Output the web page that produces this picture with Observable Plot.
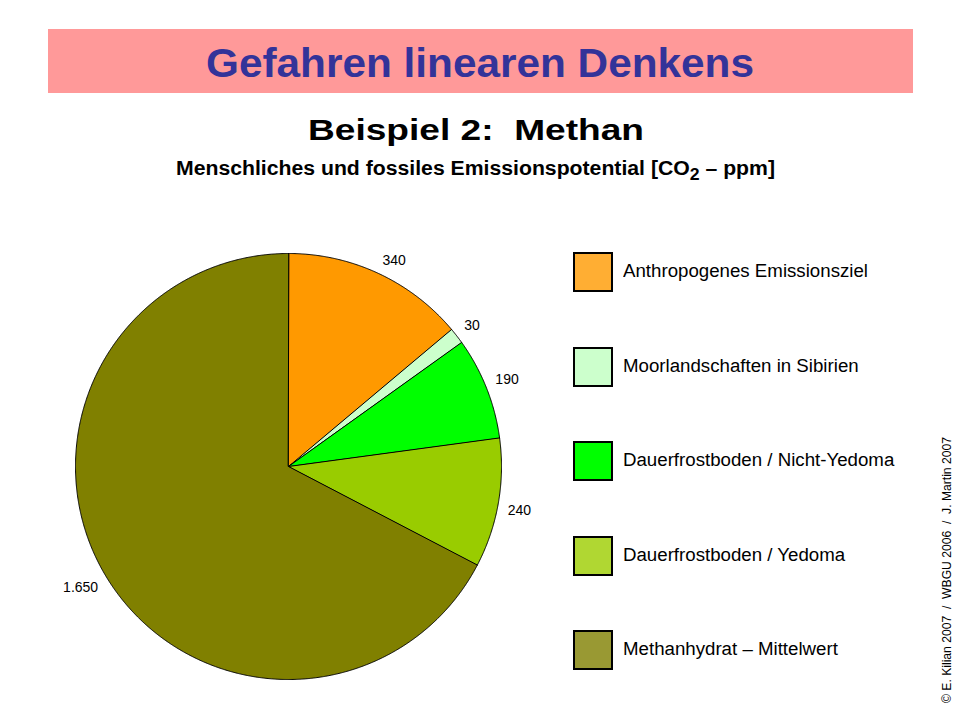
<!DOCTYPE html>
<html><head><meta charset="utf-8">
<script src="https://cdn.jsdelivr.net/npm/d3@7"></script>
<script src="https://cdn.jsdelivr.net/npm/@observablehq/plot@0.6"></script>
<style>
body{margin:0;background:#fff;font-family:"Liberation Sans",Arial,sans-serif;}
#page{position:relative;width:960px;height:720px;overflow:hidden;background:#fff;}
#chart{position:absolute;left:0;top:0;}
.t{position:absolute;white-space:pre;line-height:1;transform-origin:0 0;display:inline-block;}
.sw{position:absolute;box-sizing:border-box;border:2px solid #000;}
</style></head><body><div id="page"><div id="chart"></div></div>
<script>
// ---- data ----
const title = "Gefahren linearen Denkens";
const subtitle = "Beispiel 2:  Methan";
const chartSubtitle = "Menschliches und fossiles Emissionspotential [CO<sub>2</sub> \u2013 ppm]";
const credit = "\u00A9 E. Kilian 2007  /  WBGU 2006  /  J. Martin 2007";
const categories = ["Anthropogenes Emissionsziel", "Moorlandschaften in Sibirien", "Dauerfrostboden / Nicht-Yedoma", "Dauerfrostboden / Yedoma", "Methanhydrat \u2013 Mittelwert"];
const values = [340, 30, 190, 240, 1650];
const valueLabels = ["340", "30", "190", "240", "1.650"];
const sliceColors = ["#FF9900", "#CCFFCC", "#00FF00", "#99CC00", "#808000"];
const legendColors = ["#FFAE33", "#CCFFCC", "#00FF00", "#B0D732", "#999933"];

// ---- pie geometry (unit circle, clockwise from 12 o'clock) ----
const total = d3.sum(values);
const slicePts = [];
const labelPts = [];
let acc = 0;
values.forEach((v, i) => {
  const a0 = acc / total * 2 * Math.PI;
  acc += v;
  const a1 = acc / total * 2 * Math.PI;
  const n = Math.max(2, Math.ceil((a1 - a0) / (Math.PI / 720)));
  slicePts.push({name: categories[i], x: 0, y: 0});
  for (let k = 0; k <= n; k++) {
    const a = a0 + (a1 - a0) * k / n;
    slicePts.push({name: categories[i], x: Math.sin(a), y: -Math.cos(a)});
  }
  const m = (a0 + a1) / 2, r = 1.045;
  labelPts.push({label: valueLabels[i], x: r * Math.sin(m), y: -r * Math.cos(m),
    h: Math.sin(m) >= 0 ? "start" : "end", v: Math.cos(m) >= 0 ? "bottom" : "top"});
});

const labelMarks = [];
for (const h of ["start", "end"]) for (const v of ["bottom", "top"]) {
  labelMarks.push(Plot.text(labelPts.filter(d => d.h === h && d.v === v), {
    x: "x", y: "y", text: "label", textAnchor: h, lineAnchor: v,
    fontSize: 14, fill: "black", fontFamily: "Liberation Sans, Arial, sans-serif"
  }));
}

const chart = Plot.plot({
  width: 960, height: 720, margin: 0,
  x: {domain: [-1, 1], range: [75, 501], axis: null},
  y: {domain: [-1, 1], range: [253, 679], axis: null},
  color: {domain: categories, range: sliceColors},
  style: {background: "transparent", overflow: "visible"},
  marks: [
    Plot.line(slicePts, {x: "x", y: "y", z: "name", fill: "name", stroke: "black",
      strokeWidth: 1, curve: "linear-closed", strokeLinejoin: "miter"}),
    ...labelMarks
  ]
});
document.getElementById("chart").appendChild(chart);

// ---- HTML text & legend ----
const page = document.getElementById("page");
function addText(html, opts) {
  const el = document.createElement("span");
  el.className = "t";
  el.innerHTML = html;
  el.style.fontSize = opts.fs + "px";
  el.style.fontWeight = opts.bold ? "bold" : "normal";
  el.style.color = opts.color || "#000";
  page.appendChild(el);
  const w = el.getBoundingClientRect().width;
  const s = opts.width ? opts.width / w : (opts.scale || 1);
  el.style.left = opts.left + "px";
  el.style.top = (opts.baseline - 0.8465 * opts.fs) + "px";
  el.style.transform = `scaleX(${s})`;
  return s;
}
const band = document.createElement("div");
Object.assign(band.style, {position: "absolute", left: "48px", top: "29px", width: "865px", height: "64px", background: "#FF9999"});
page.appendChild(band);

addText(title, {fs: 40, bold: true, color: "#333399", left: 206, width: 548, baseline: 76.5});
addText(subtitle, {fs: 30, bold: true, left: 308, width: 336, baseline: 140});
addText(chartSubtitle, {fs: 20, bold: true, left: 176, width: 599, baseline: 174.5});

let legendScale = null;
categories.forEach((c, i) => {
  const top = 252.3 + i * 94.5;
  const sw = document.createElement("div");
  sw.className = "sw";
  Object.assign(sw.style, {left: "573px", top: top + "px", width: "40px", height: "40px", background: legendColors[i]});
  page.appendChild(sw);
  const s = addText(c, {fs: 18, left: 623, baseline: top + 25.3, width: i === 0 ? 245 : null, scale: legendScale});
  if (i === 0) legendScale = s;
});

// vertical credit
const cr = document.createElement("span");
cr.className = "t";
cr.textContent = credit;
cr.style.fontSize = "12px";
page.appendChild(cr);
const cw = cr.getBoundingClientRect().width;
cr.style.left = "0px"; cr.style.top = "0px";
cr.style.transform = `translate(${951 - 0.8465 * 12}px, 703px) rotate(-90deg) scaleX(${266 / cw})`;
</script>
</body></html>
